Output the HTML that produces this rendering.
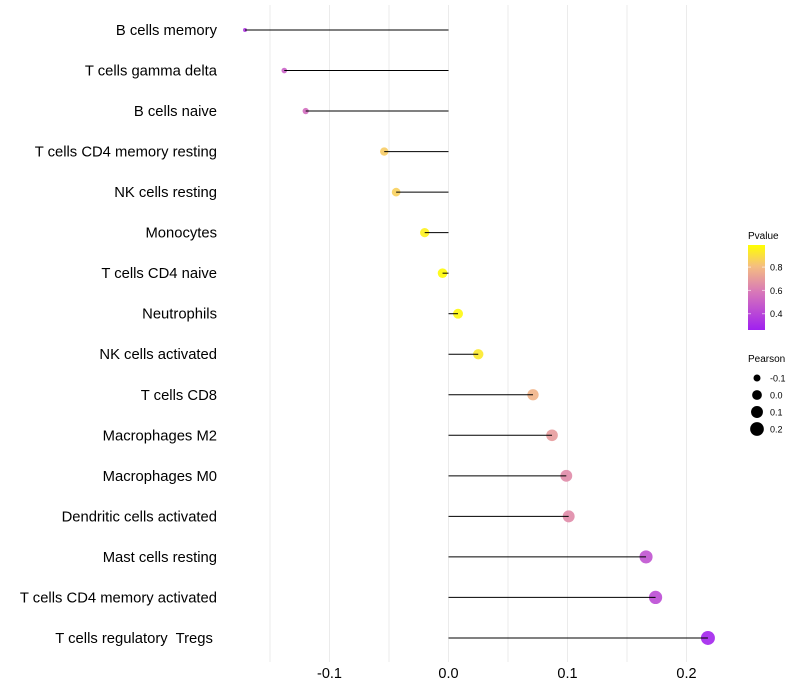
<!DOCTYPE html>
<html><head><meta charset="utf-8"><style>
body{margin:0;background:#fff;}
svg{display:block;font-family:"Liberation Sans",sans-serif;}
.lab{white-space:pre;}
</style></head><body>
<svg id="chart" width="800" height="700">
<defs><linearGradient id="pg" x1="0" y1="1" x2="0" y2="0">
<stop offset="0" stop-color="#A020F0"/><stop offset="0.45" stop-color="#D878B8"/><stop offset="0.75" stop-color="#F5BE80"/><stop offset="1" stop-color="#FFFF00"/>
</linearGradient></defs>
<g id="grid"></g>
<g id="marks"></g>
<g id="labels"></g>
<g id="xticks"></g>
<g>
<text x="748" y="239" font-size="10">Pvalue</text>
<rect x="748" y="245" width="17" height="85" fill="url(#pg)"/>
<g id="cbticks"></g>
</g>
<g id="sizeleg">
<text x="748" y="362" font-size="10">Pearson</text>
</g>
</svg>
<script>
const categories=["B cells memory","T cells gamma delta","B cells naive","T cells CD4 memory resting","NK cells resting","Monocytes","T cells CD4 naive","Neutrophils","NK cells activated","T cells CD8","Macrophages M2","Macrophages M0","Dendritic cells activated","Mast cells resting","T cells CD4 memory activated","T cells regulatory  Tregs "];
const pearson=[-0.171,-0.138,-0.120,-0.054,-0.044,-0.020,-0.005,0.008,0.025,0.071,0.087,0.099,0.101,0.166,0.174,0.218];
const pvalue=[0.35,0.5,0.55,0.85,0.86,0.95,0.98,0.97,0.93,0.78,0.70,0.65,0.65,0.45,0.42,0.28];
const xTicks=[-0.1,0.0,0.1,0.2];
const xTickLabels=["-0.1","0.0","0.1","0.2"];
const cbTicks=[0.4,0.6,0.8];
const sizeLegend=[-0.1,0.0,0.1,0.2];
const NS="http://www.w3.org/2000/svg";
const x=v=>448.5+v*1190;
const y=i=>30+i*40.53;
const pMin=Math.min(...pearson),pMax=Math.max(...pearson);
const r=v=>Math.sqrt(Math.max(1,4+(v-pMin)/(pMax-pMin)*45));
const cy=p=>330-(p-0.26)*(85/0.73);
const stops=[[0.26,[160,32,240]],[0.59,[216,120,184]],[0.81,[245,190,128]],[0.99,[255,255,0]]];
function col(p){p=Math.max(0.26,Math.min(0.99,p));for(let k=0;k<stops.length-1;k++){const a=stops[k],b=stops[k+1];if(p<=b[0]){const t=(p-a[0])/(b[0]-a[0]);const c=a[1].map((v,j)=>Math.round(v+(b[1][j]-v)*t));return `rgb(${c})`;}}return "rgb(255,255,0)";}
function mk(tag,at,parent){const e=document.createElementNS(NS,tag);for(const k in at)e.setAttribute(k,at[k]);document.getElementById(parent).appendChild(e);return e;}
[-0.15,-0.1,-0.05,0,0.05,0.1,0.15,0.2].forEach(v=>{const l=mk("line",{x1:x(v),x2:x(v),y1:5,y2:662,stroke:"#ebebeb","stroke-width":1},"grid");

});
categories.forEach((c,i)=>{
const pt=mk("circle",{cx:x(pearson[i]),cy:y(i),r:r(pearson[i]),fill:col(pvalue[i]),"fill-opacity":0.9},"marks");


const ln=mk("line",{x1:x(0),x2:x(pearson[i]),y1:y(i),y2:y(i),stroke:"#000","stroke-width":1},"marks");


const t=mk("text",{x:217,y:y(i)+5,"font-size":14.8,"text-anchor":"end",fill:"#000",class:"lab"},"labels");
t.textContent=c;


});
xTicks.forEach((v,i)=>{const t=mk("text",{x:x(v),y:678,"font-size":14.5,"text-anchor":"middle"},"xticks");t.textContent=xTickLabels[i];

});
cbTicks.forEach(v=>{const t=mk("text",{x:770,y:cy(v)+3.5,"font-size":9},"cbticks");t.textContent=v.toFixed(1);


mk("line",{x1:748,x2:751,y1:cy(v),y2:cy(v),stroke:"#fff","stroke-opacity":0.6},"cbticks");
mk("line",{x1:762,x2:765,y1:cy(v),y2:cy(v),stroke:"#fff","stroke-opacity":0.6},"cbticks");});
sizeLegend.forEach((v,i)=>{const yy=378+i*17;
const c=mk("circle",{cx:757,cy:yy,r:r(v),fill:"#000"},"sizeleg");


const t=mk("text",{x:770,y:yy+3.5,"font-size":9},"sizeleg");t.textContent=v.toFixed(1);

});
</script>
</body></html>
